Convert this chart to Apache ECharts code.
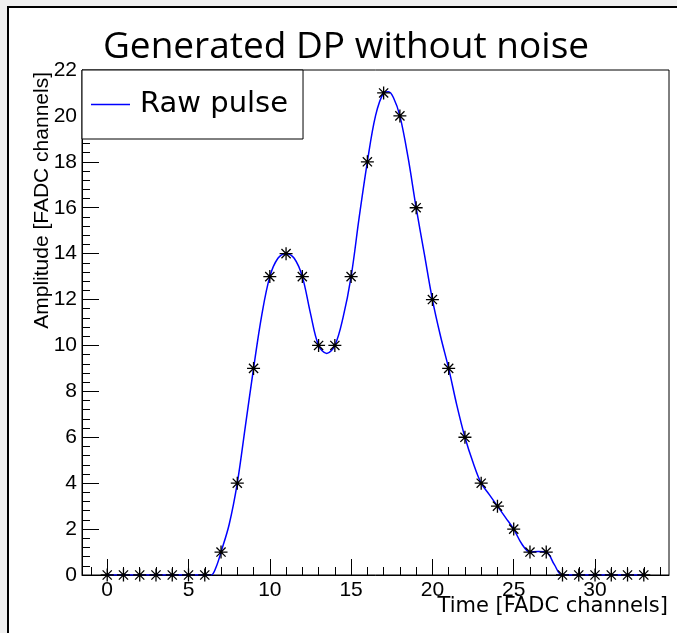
<!DOCTYPE html>
<html>
<head>
<meta charset="utf-8">
<script src="https://cdn.jsdelivr.net/npm/echarts@6/dist/echarts.min.js"></script>
<style>
html,body{margin:0;padding:0;background:#f0f0f0;}
#c{width:677px;height:633px;}
</style>
</head>
<body>
<div id="c"></div>
<script>
// Sampled pulse (markers)
var timeX = [0,1,2,3,4,5,6,7,8,9,10,11,12,13,14,15,16,17,18,19,20,21,22,23,24,25,26,27,28,29,30,31,32,33];
var amp   = [0,0,0,0,0,0,0,1,4,9,13,14,13,10,10,13,18,21,20,16,12,9,6,4,3,2,1,1,0,0,0,0,0,0];
// Raw pulse curve
var curveX = [0,6,6.4,6.7,7,7.5,8,8.5,9,9.5,10,10.5,11,11.5,12,12.5,13,13.5,14,14.5,15,15.5,16,16.5,17,17.3,17.6,18,18.5,19,19.5,20,20.5,21,21.5,22,22.5,23,23.5,24,24.5,25,25.5,26,26.5,27,27.5,28,33];
var curveY = [0,0,0,0.35,1,2.2,4,6.5,9,11.3,13,13.8,14,13.8,13,11.4,10,9.65,10,11.2,13,15.6,18,20,21,21.05,20.8,20,18.2,16,14,12,10.4,9,7.4,6,4.9,4,3.5,3,2.5,2,1.35,1,1.02,1,0.45,0,0];
var xMajor = [0,5,10,15,20,25,30];
var xMinor = [-1,1,2,3,4,6,7,8,9,11,12,13,14,16,17,18,19,21,22,23,24,26,27,28,29,31,32,33,34];
var titleText = 'Generated DP without noise';
var xTitle = 'Time [FADC channels]';
var yTitle = 'Amplitude [FADC channels]';
var legendName = 'Raw pulse';

var markers = timeX.map(function(x,i){return [x, amp[i]];});
var curve = curveX.map(function(x,i){return [x, curveY[i]];});

var chart = echarts.init(document.getElementById('c'), null, {renderer:'canvas'});
chart.setOption({
  animation:false,
  backgroundColor:'#f0f0f0',
  graphic:[
    {type:'rect', z:-10, shape:{x:8,y:7,width:690,height:650}, style:{fill:'#fff', stroke:'#000', lineWidth:2}},
    {type:'text', x:42, y:72, rotation:Math.PI/2, z:10,
     style:{text:yTitle, fill:'#000', font:'21px "Liberation Sans", Arial, sans-serif', align:'right', verticalAlign:'middle'}},
    {type:'text', x:668, y:607, z:10,
     style:{text:xTitle, fill:'#000', font:'21px "DejaVu Sans", sans-serif', align:'right', verticalAlign:'middle'}}
  ],
  title:{text:titleText, left:341, top:24, textAlign:'center',
    textStyle:{fontFamily:'Open Sans, sans-serif', fontSize:37, fontWeight:'normal', color:'#000'}},
  legend:{data:[{name:legendName, icon:'rect'}], left:82, top:70, orient:'vertical',
    padding:[20,15,20,9], itemWidth:39, itemHeight:1.5, itemGap:0,
    backgroundColor:'#fff', borderColor:'#000', borderWidth:1,
    itemStyle:{color:'#0000ff'},
    textStyle:{fontSize:29, color:'#000', fontFamily:'DejaVu Sans, sans-serif', padding:[0,0,0,5]}},
  grid:{left:82, top:70, right:8, bottom:58, show:true, borderColor:'#000', borderWidth:1, outerBoundsMode:'none'},
  xAxis:[
    {type:'value', min:-1.55, max:34.55, position:'bottom',
     axisLine:{show:true, onZero:false, lineStyle:{color:'#000', width:1}},
     axisTick:{show:true, inside:true, length:16, customValues:xMajor, lineStyle:{color:'#000', width:1}},
     axisLabel:{show:true, customValues:xMajor, margin:5, color:'#000', fontSize:21, fontFamily:'Liberation Sans, Arial, sans-serif'},
     splitLine:{show:false}},
    {type:'value', min:-1.55, max:34.55, position:'bottom',
     axisLine:{show:false, onZero:false},
     axisTick:{show:true, inside:true, length:8, customValues:xMinor, lineStyle:{color:'#000', width:1}},
     axisLabel:{show:false},
     splitLine:{show:false}}
  ],
  yAxis:{type:'value', min:0, max:22, interval:2,
    axisLine:{show:true, onZero:false, lineStyle:{color:'#000', width:1}},
    axisTick:{show:true, inside:true, length:17, lineStyle:{color:'#000', width:1}},
    minorTick:{show:true, splitNumber:5, length:8, lineStyle:{color:'#000', width:1}},
    axisLabel:{margin:5, color:'#000', fontSize:21, fontFamily:'Liberation Sans, Arial, sans-serif'},
    splitLine:{show:false}, minorSplitLine:{show:false}},
  series:[
    {name:legendName, type:'line', data:curve, xAxisIndex:0, smooth:0.35, symbol:'none',
     lineStyle:{color:'#0000ff', width:1.5}, itemStyle:{color:'#0000ff'}, z:2},
    {name:'Samples', type:'scatter', data:markers, xAxisIndex:0, symbolSize:13,
     symbol:'path://M0,-6L0,6M-6,0L6,0M-4.24,-4.24L4.24,4.24M-4.24,4.24L4.24,-4.24',
     itemStyle:{color:'rgba(0,0,0,0)', borderColor:'#000', borderWidth:1.3, opacity:1}, z:3}
  ]
});
</script>
</body>
</html>
